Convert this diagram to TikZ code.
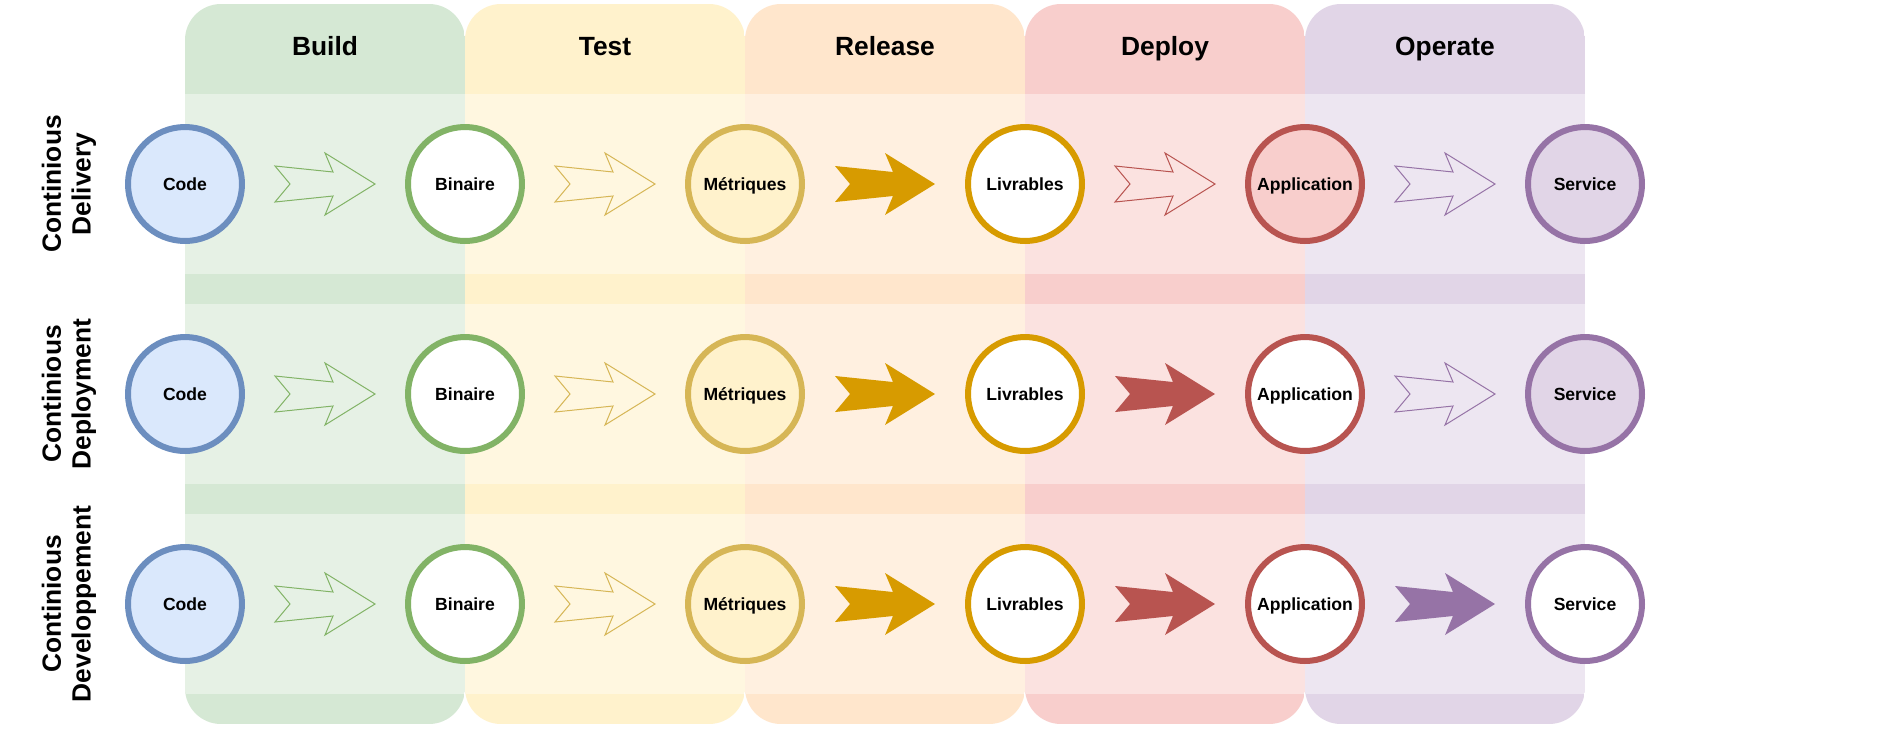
\documentclass[tikz,border=0pt]{standalone}
\usepackage{fontspec}
\setmainfont{Liberation Sans}
\usepackage{tikz}
\definecolor{bldfill}{HTML}{D5E8D4}
\definecolor{bldline}{HTML}{82B366}
\definecolor{tstfill}{HTML}{FFF2CC}
\definecolor{tstline}{HTML}{D6B656}
\definecolor{relfill}{HTML}{FFE6CC}
\definecolor{relline}{HTML}{D79B00}
\definecolor{depfill}{HTML}{F8CECC}
\definecolor{depline}{HTML}{B85450}
\definecolor{opsfill}{HTML}{E1D5E7}
\definecolor{opsline}{HTML}{9673A6}
\definecolor{codefill}{HTML}{DAE8FC}
\definecolor{codeline}{HTML}{6C8EBF}
\newcommand{\blockarrow}[2]{\path[#1, shift={(#2.center)}] (90,-18) -- (148,-12) -- (140,-31) -- (190,0) -- (140,31) -- (148,12) -- (90,18) -- (105,0) -- cycle;}

\begin{document}
\begin{tikzpicture}[
    x=0.02cm, y=-0.02cm,
    stage/.style={circle, line width=0.12cm, minimum size=2.28cm, inner sep=0, text height=7.2pt, text depth=0pt, font=\bfseries\fontsize{10}{12}\selectfont},
    lanetitle/.style={inner sep=0, text height=10.8pt, text depth=0pt, font=\bfseries\fontsize{15}{18}\selectfont},
    rowlabel/.style={rotate=90, align=center, inner sep=0, font=\bfseries\fontsize{15}{17}\selectfont},
    arrowopen/.style={draw=#1, line width=0.02cm},
    arrowfull/.style={fill=#1},
    bldopen/.style={arrowopen=bldline},
    tstopen/.style={arrowopen=tstline},
    relfull/.style={arrowfull=relline},
    depopen/.style={arrowopen=depline},
    depfull/.style={arrowfull=depline},
    opsopen/.style={arrowopen=opsline},
    opsfull/.style={arrowfull=opsline}]
\fill[white] (0,0) rectangle (1883,728);
\useasboundingbox (0,0) rectangle (1883,728);

% lanes
\foreach \nm/\cl [count=\i from 0] in {Build/bld,Test/tst,Release/rel,Deploy/dep,Operate/ops}{
  \begin{scope}
    \clip[rounded corners=0.72cm] (185+280*\i,4) rectangle +(280,720);
    \fill[\cl fill] (185+280*\i,4) rectangle +(280,720);
    \foreach \yt in {94,304,514}
      \fill[\cl fill!60!white] (185+280*\i,\yt) rectangle +(280,180);
  \end{scope}
  \node[lanetitle] (title\cl) at (325+280*\i,46.5) {\nm};
}

% row labels
\node[rowlabel] (lblDelivery) at (69,184) {Continious\\Delivery};
\node[rowlabel] (lblDeployment) at (69,394) {Continious\\Deployment};
\node[rowlabel] (lblDevelop) at (69,604) {Continious\\Developpement};

% stages
\foreach \r/\y/\appf/\svcf in {1/184/depfill/opsfill, 2/394/white/opsfill, 3/604/white/white}{
  \node[stage, draw=codeline, fill=codefill] (code\r) at (185,\y) {Code};
  \node[stage, draw=bldline, fill=white] (bin\r) at (465,\y) {Binaire};
  \node[stage, draw=tstline, fill=tstfill] (met\r) at (745,\y) {Métriques};
  \node[stage, draw=relline, fill=white] (liv\r) at (1025,\y) {Livrables};
  \node[stage, draw=depline, fill=\appf] (app\r) at (1305,\y) {Application};
  \node[stage, draw=opsline, fill=\svcf] (svc\r) at (1585,\y) {Service};
}

% arrows
\foreach \r/\deparr/\opsarr in {1/depopen/opsopen, 2/depfull/opsopen, 3/depfull/opsfull}{
  \blockarrow{bldopen}{code\r}
  \blockarrow{tstopen}{bin\r}
  \blockarrow{relfull}{met\r}
  \blockarrow{\deparr}{liv\r}
  \blockarrow{\opsarr}{app\r}
}
\end{tikzpicture}
\end{document}
